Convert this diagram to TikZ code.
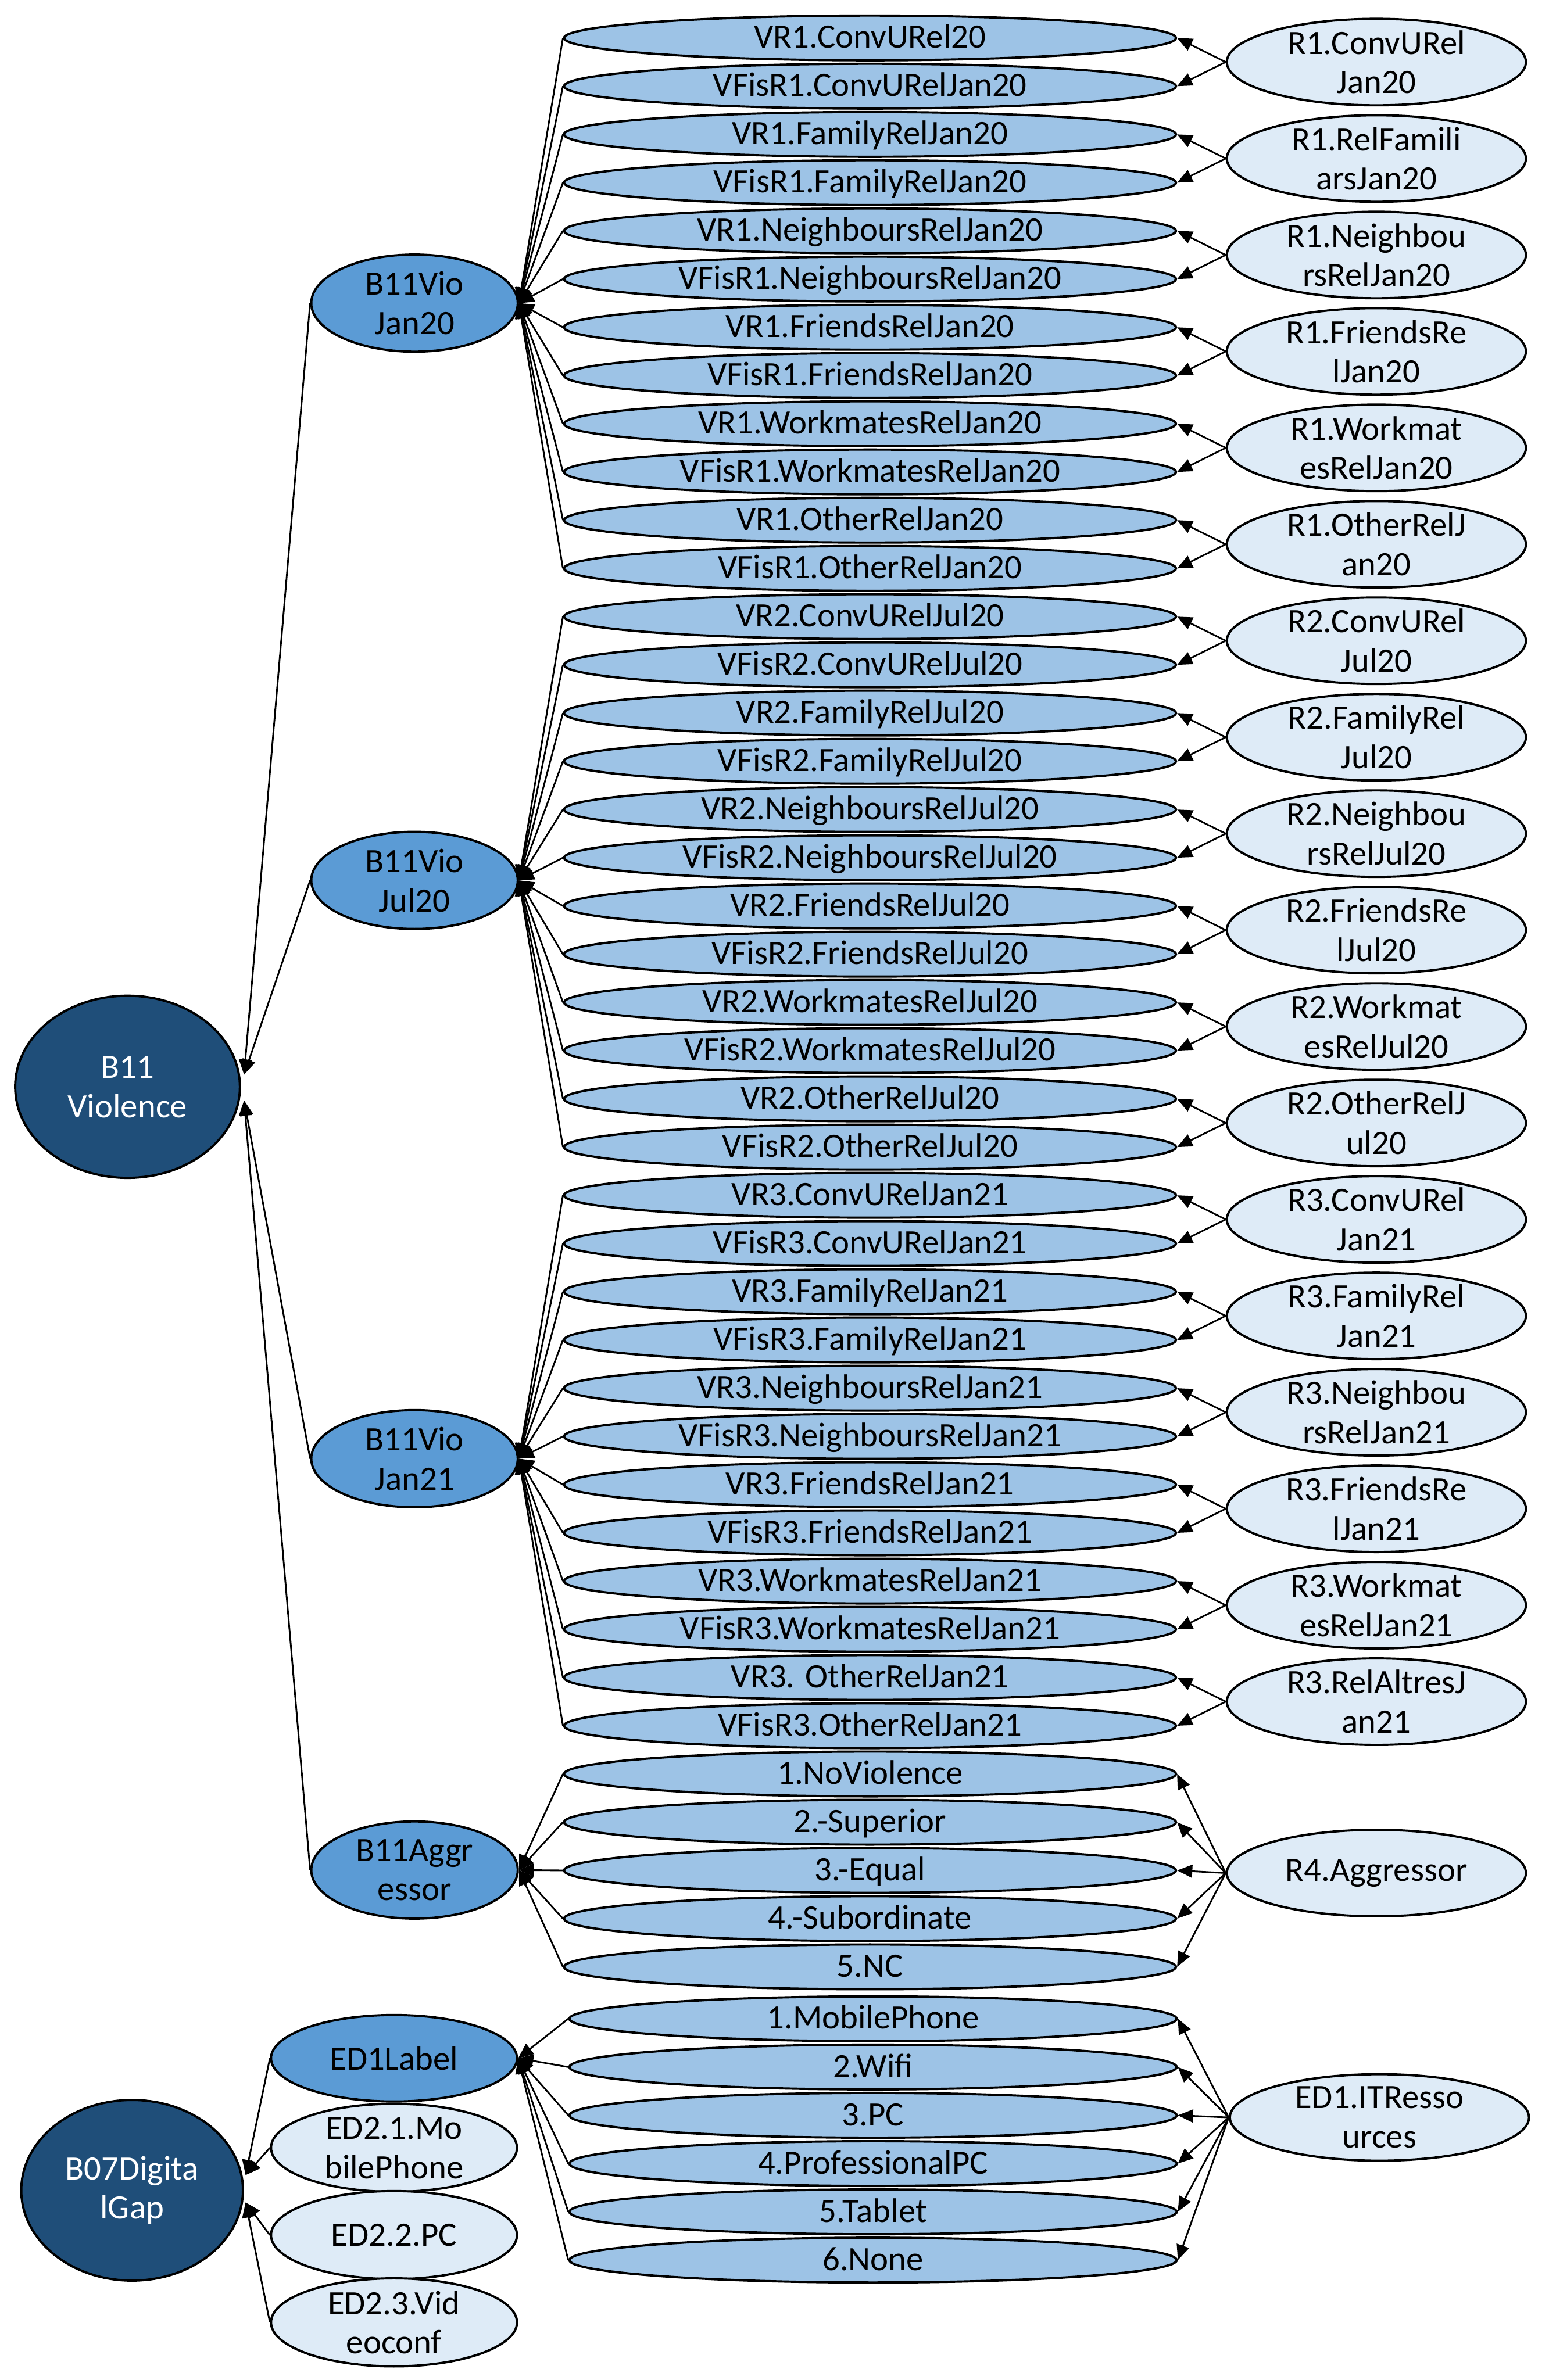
\documentclass[tikz,border=0pt]{standalone}
\usepackage{fontspec}
\setmainfont{Carlito}
\usetikzlibrary{shapes.geometric,arrows.meta,calc}
\definecolor{darkb}{HTML}{1F4E79}
\definecolor{midb}{HTML}{5B9BD5}
\definecolor{lightb}{HTML}{9DC3E6}
\definecolor{paleb}{HTML}{DEEBF7}
\begin{document}
\begin{tikzpicture}[x=1pt,y=-1pt,
  base/.style={ellipse, draw=black, line width=1.5pt, inner xsep=0pt, inner ysep=0pt, align=center, font=\fontsize{22.5}{26}\selectfont},
  vbox/.style={base, fill=lightb, minimum width=403pt, minimum height=29.5pt, text height=15.5pt, text depth=2pt},
  ebox/.style={vbox, minimum width=400pt},
  rbox/.style={base, fill=paleb, minimum width=197pt, minimum height=57pt, inner ysep=-3pt},
  catbox/.style={base, fill=midb, minimum width=136pt, minimum height=64pt},
  edbox/.style={base, fill=paleb, minimum width=162pt, minimum height=58pt, inner ysep=-2.5pt},
  topbox/.style={base, fill=darkb, text=white, minimum width=148pt, minimum height=120pt},
  arr/.style={-{Triangle[length=10pt,width=8.5pt]}, line width=1.1pt}]
\useasboundingbox (0,0) rectangle (1020,1568);

% value ellipses (violence relations)
\foreach \t [count=\i from 0] in {VR1.ConvURel20, VFisR1.ConvURelJan20, VR1.FamilyRelJan20, VFisR1.FamilyRelJan20, VR1.NeighboursRelJan20, VFisR1.NeighboursRelJan20, VR1.FriendsRelJan20, VFisR1.FriendsRelJan20, VR1.WorkmatesRelJan20, VFisR1.WorkmatesRelJan20, VR1.OtherRelJan20, VFisR1.OtherRelJan20, VR2.ConvURelJul20, VFisR2.ConvURelJul20, VR2.FamilyRelJul20, VFisR2.FamilyRelJul20, VR2.NeighboursRelJul20, VFisR2.NeighboursRelJul20, VR2.FriendsRelJul20, VFisR2.FriendsRelJul20, VR2.WorkmatesRelJul20, VFisR2.WorkmatesRelJul20, VR2.OtherRelJul20, VFisR2.OtherRelJul20, VR3.ConvURelJan21, VFisR3.ConvURelJan21, VR3.FamilyRelJan21, VFisR3.FamilyRelJan21, VR3.NeighboursRelJan21, VFisR3.NeighboursRelJan21, VR3.FriendsRelJan21, VFisR3.FriendsRelJan21, VR3.WorkmatesRelJan21, VFisR3.WorkmatesRelJan21, VR3. OtherRelJan21, VFisR3.OtherRelJan21}{
  \pgfmathsetmacro\yy{25+31.77*\i}
  \node[vbox] (v\i) at (573,\yy) {\t};
}

% relation ellipses on the right
\foreach \t [count=\k from 0] in {{R1.ConvURel\\Jan20}, {R1.RelFamili\\arsJan20}, {R1.Neighbou\\rsRelJan20}, {R1.FriendsRe\\lJan20}, {R1.Workmat\\esRelJan20}, {R1.OtherRelJ\\an20}, {R2.ConvURel\\Jul20}, {R2.FamilyRel\\Jul20}, {R2.Neighbou\\rsRelJul20}, {R2.FriendsRe\\lJul20}, {R2.Workmat\\esRelJul20}, {R2.OtherRelJ\\ul20}, {R3.ConvURel\\Jan21}, {R3.FamilyRel\\Jan21}, {R3.Neighbou\\rsRelJan21}, {R3.FriendsRe\\lJan21}, {R3.Workmat\\esRelJan21}, {R3.RelAltresJ\\an21}}{
  \pgfmathsetmacro\yy{40.9+63.54*\k}
  \node[rbox] (r\k) at (906.5,\yy) {\t};
}

% aggressor values
\foreach \t [count=\i from 1] in {1.NoViolence, 2.-Superior, 3.-Equal, 4.-Subordinate, 5.NC}{
  \pgfmathsetmacro\yy{25+31.77*(35+\i)}
  \node[vbox] (a\i) at (573,\yy) {\t};
}
\node[rbox] (ra) at (906.5,1234) {R4.Aggressor};

% IT resources values
\foreach \t [count=\i from 1] in {1.MobilePhone, 2.Wifi, 3.PC, 4.ProfessionalPC, 5.Tablet, 6.None}{
  \pgfmathsetmacro\yy{1330+31.8*(\i-1)}
  \node[ebox] (e\i) at (575,\yy) {\t};
}
\node[rbox] (ri) at (908.5,1395) {ED1.ITResso\\urces};

% category nodes
\node[catbox] (c1) at (273,199.7) {B11Vio\\Jan20};
\node[catbox] (c2) at (273,580) {B11Vio\\Jul20};
\node[catbox] (c3) at (273,961) {B11Vio\\Jan21};
\node[catbox] (c4) at (273,1232) {B11Aggr\\essor};
\node[catbox, minimum width=162pt, minimum height=57pt] (el) at (259.5,1356) {ED1Label};
\node[edbox] (m1) at (259.5,1415) {ED2.1.Mo\\bilePhone};
\node[edbox] (m2) at (259.5,1472.5) {ED2.2.PC};
\node[edbox] (m3) at (259.5,1530) {ED2.3.Vid\\eoconf};

% top nodes
\node[topbox] (bv) at (84,716) {B11\\Violence};
\node[topbox, minimum width=146pt, minimum height=119pt] (bd) at (87,1443) {B07Digita\\lGap};

% connectors: relations -> values
\foreach \k in {0,...,17}{
  \pgfmathtruncatemacro\ia{2*\k}
  \pgfmathtruncatemacro\ib{2*\k+1}
  \draw[arr] (r\k.west) -- (v\ia.east);
  \draw[arr] (r\k.west) -- (v\ib.east);
}
\foreach \i in {1,...,5} \draw[arr] (ra.west) -- (a\i.east);
\foreach \i in {1,...,6} \draw[arr] (ri.west) -- (e\i.east);

% connectors: values -> categories
\foreach \i in {0,...,11} \draw[arr] (v\i.west) -- (c1.east);
\foreach \i in {12,...,23} \draw[arr] (v\i.west) -- (c2.east);
\foreach \i in {24,...,35} \draw[arr] (v\i.west) -- (c3.east);
\foreach \i in {1,...,5} \draw[arr] (a\i.west) -- (c4.east);
\foreach \i in {1,...,6} \draw[arr] (e\i.west) -- (el.east);

% connectors: categories -> top nodes
\coordinate (bvu) at ($(bv.east)+(2,-8)$);
\coordinate (bvd) at ($(bv.east)+(2,9)$);
\draw[arr] (c1.west) -- (bvu);
\draw[arr] (c2.west) -- (bvu);
\draw[arr] (c3.west) -- (bvd);
\draw[arr] (c4.west) -- (bvd);
\coordinate (bdu) at ($(bd.east)+(1,-10)$);
\coordinate (bdd) at ($(bd.east)+(1,8)$);
\draw[arr] (el.west) -- (bdu);
\draw[arr] (m1.west) -- (bdu);
\draw[arr] (m2.west) -- (bdd);
\draw[arr] (m3.west) -- (bdd);
\end{tikzpicture}
\end{document}
